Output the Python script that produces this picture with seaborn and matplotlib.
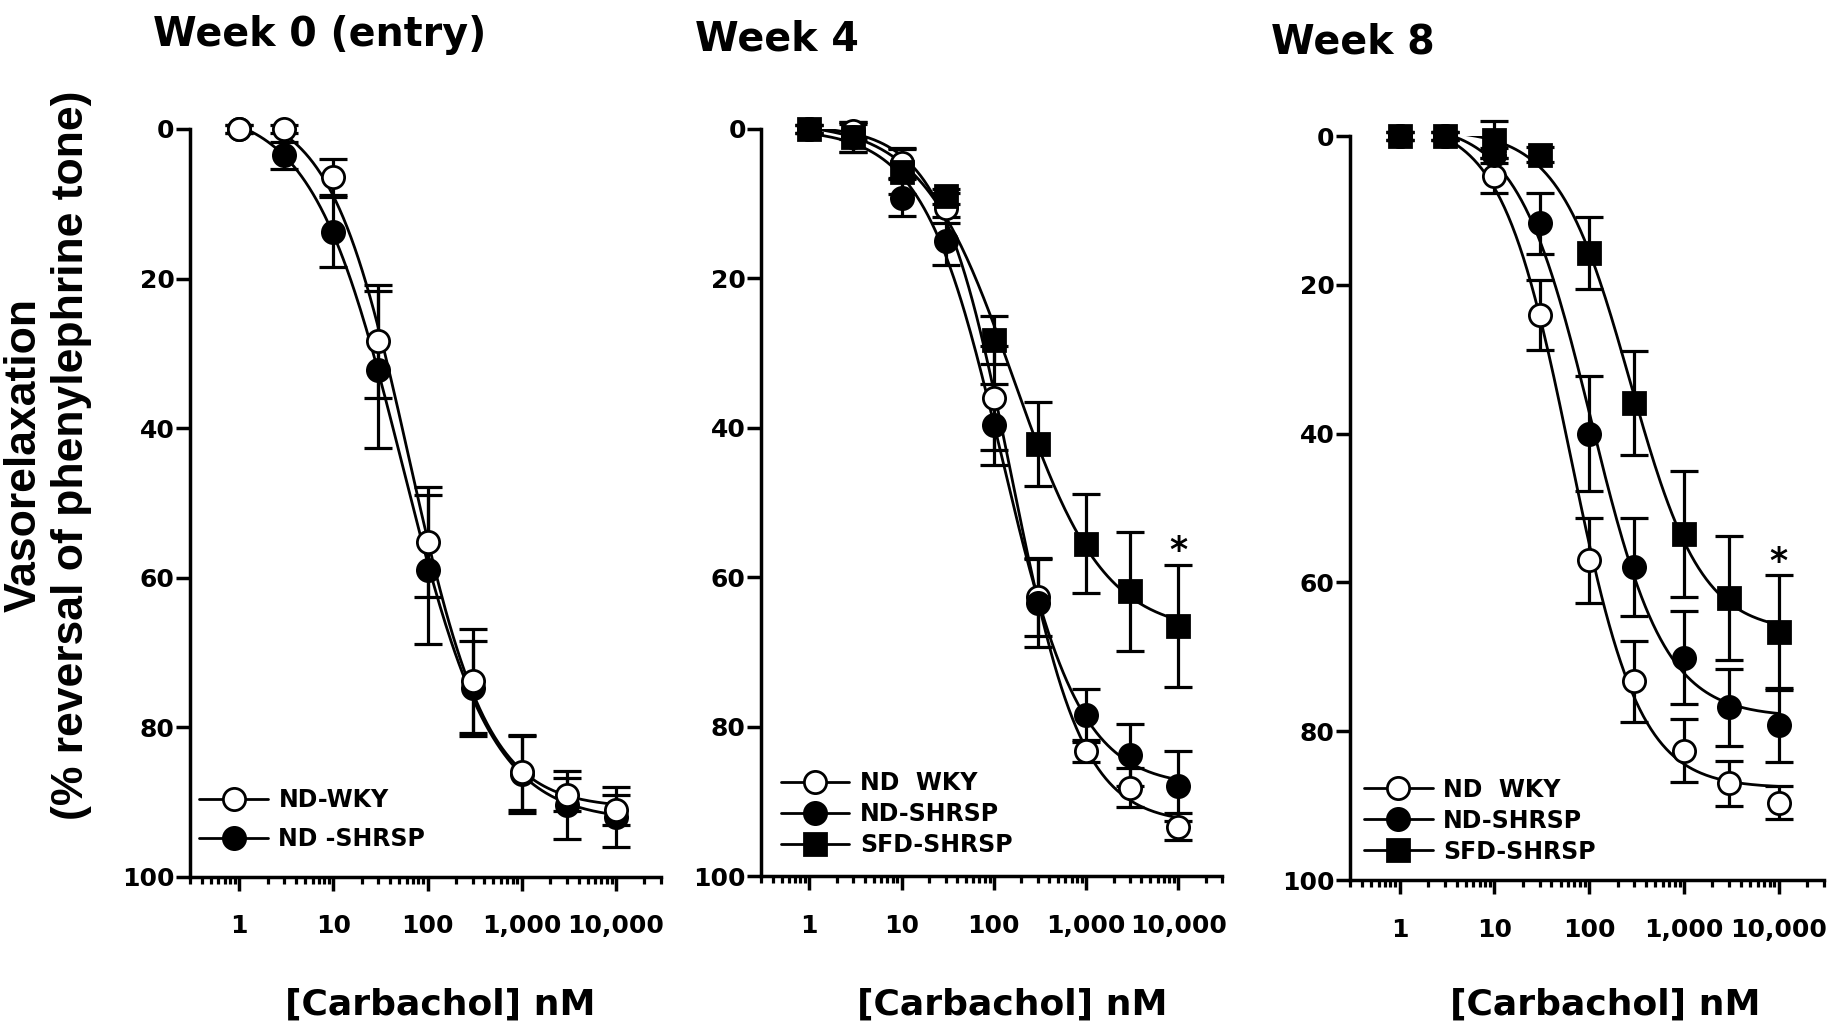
import numpy as np
import matplotlib
matplotlib.use("Agg")
import matplotlib.pyplot as plt
import seaborn as sns
from matplotlib.lines import Line2D
from matplotlib.ticker import FixedLocator, LogLocator, FuncFormatter, NullFormatter

sns.set_style("ticks")
plt.rcParams["font.family"] = ["DejaVu Sans"]
plt.rcParams["font.weight"] = "bold"
for key in ["text.color", "axes.labelcolor", "xtick.color", "ytick.color", "axes.edgecolor"]:
    plt.rcParams[key] = "black"

# carbachol concentrations (nM)
conc = [1, 3, 10, 30, 100, 300, 1000, 3000, 10000]

# Week 0 (entry)
w0_wky = [0, 0, 6.4, 28.4, 55.2, 73.8, 86, 89, 91]
w0_wky_sem = [0.5, 0.5, 2.4, 7.6, 7.4, 7, 5, 2.2, 2]
w0_shrsp = [0, 3.5, 13.8, 32.2, 58.9, 74.8, 86.3, 90.4, 92]
w0_shrsp_sem = [0.5, 1.8, 4.7, 10.5, 10, 6.3, 5.2, 4.5, 4]

# Week 4
w4_wky = [0, 0.3, 4.6, 10.6, 36, 62.7, 83.3, 88.2, 93.4]
w4_wky_sem = [0.5, 1, 2, 2, 7, 5.2, 1.5, 2.6, 1.8]
w4_shrsp = [0, 1.1, 9.2, 15, 39.6, 63.4, 78.5, 83.8, 88]
w4_shrsp_sem = [0.5, 2, 2.5, 3.2, 5.4, 6, 3.6, 4.2, 4.7]
w4_sfd = [0, 1.1, 5.7, 9, 28.2, 42.2, 55.5, 61.9, 66.5]
w4_sfd_sem = [0.5, 2, 3, 1, 3.2, 5.6, 6.6, 8, 8.2]

# Week 8
w8_wky = [0, 0, 5.3, 24, 57, 73.3, 82.6, 87, 89.6]
w8_wky_sem = [0.5, 0.5, 2.4, 4.7, 5.7, 5.4, 4.2, 3, 2.2]
w8_shrsp = [0, 0, 2.6, 11.7, 40, 57.9, 70.1, 76.8, 79.2]
w8_shrsp_sem = [0.5, 0.5, 1, 4.1, 7.7, 6.6, 6.2, 5.2, 5]
w8_sfd = [0, 0, 0.5, 2.5, 15.7, 35.9, 53.5, 62.1, 66.7]
w8_sfd_sem = [0.5, 0.5, 2.5, 1, 4.8, 7, 8.5, 8.3, 7.7]

titles = ["Week 0 (entry)", "Week 4", "Week 8"]
star_y = [None, 56.5, 57.3]


def fit_curve(x, y):
    # 4-parameter logistic, least squares over a grid of EC50 / slope
    lx = np.log10(np.asarray(x, float))
    y = np.asarray(y, float)
    C, H = np.meshgrid(np.arange(0.3, 3.8, 0.01), np.arange(0.3, 2.5, 0.01), indexing="ij")
    s = 1 / (1 + 10 ** ((C[..., None] - lx) * H[..., None]))
    u = 1 - s
    a11 = (u * u).sum(-1); a12 = (u * s).sum(-1); a22 = (s * s).sum(-1)
    b1 = (u * y).sum(-1); b2 = (s * y).sum(-1)
    det = a11 * a22 - a12 ** 2
    bot = (a22 * b1 - a12 * b2) / det
    top = (a11 * b2 - a12 * b1) / det
    sse = ((bot[..., None] * u + top[..., None] * s - y) ** 2).sum(-1)
    i = np.unravel_index(np.argmin(sse), sse.shape)
    xs = np.logspace(0, 4, 200)
    ys = bot[i] + (top[i] - bot[i]) / (1 + 10 ** ((C[i] - np.log10(xs)) * H[i]))
    return xs, ys


styles = {
    "wky": dict(marker="o", mfc="white"),
    "shrsp": dict(marker="o", mfc="black"),
    "sfd": dict(marker="s", mfc="black"),
}

panels = [
    # (draw order list, legend labels)
    ([("shrsp", w0_shrsp, w0_shrsp_sem), ("wky", w0_wky, w0_wky_sem)],
     [("wky", "ND-WKY"), ("shrsp", "ND -SHRSP")]),
    ([("wky", w4_wky, w4_wky_sem), ("shrsp", w4_shrsp, w4_shrsp_sem), ("sfd", w4_sfd, w4_sfd_sem)],
     [("wky", "ND  WKY"), ("shrsp", "ND-SHRSP"), ("sfd", "SFD-SHRSP")]),
    ([("wky", w8_wky, w8_wky_sem), ("shrsp", w8_shrsp, w8_shrsp_sem), ("sfd", w8_sfd, w8_sfd_sem)],
     [("wky", "ND  WKY"), ("shrsp", "ND-SHRSP"), ("sfd", "SFD-SHRSP")]),
]

rects = [
    [0.1034, 0.1461, 0.2564, 0.7283],
    [0.4143, 0.1470, 0.2510, 0.7274],
    [0.7349, 0.1431, 0.2580, 0.7244],
]
title_pos = [(0.0833, 0.966), (0.3783, 0.962), (0.6919, 0.959)]
xlabel_x = [0.2395, 0.551, 0.874]
leg_anchor = [(0.02, 0.035), (0.043, 0.025), (0.03, 0.022)]
leg_spacing = [0.62, 0.3, 0.3]

fig = plt.figure(figsize=(18.37, 10.27), dpi=100)

for k, (series, labels) in enumerate(panels):
    ax = fig.add_axes(rects[k])
    ax.set_xscale("log")
    ax.set_xlim(0.3, 30000)
    ax.set_ylim(100, 0)

    for z, (key, vals, sem) in enumerate(series):
        xs, ys = fit_curve(conc, vals)
        sns.lineplot(x=xs, y=ys, ax=ax, color="black", lw=2, zorder=2, sort=True)
        ax.errorbar(conc, vals, yerr=sem, fmt="none", ecolor="black", elinewidth=2.3,
                    capsize=10, capthick=2.3, zorder=3 + z * 0.1, clip_on=False)
        ax.plot(conc, vals, ls="none", marker=styles[key]["marker"], ms=16,
                mfc=styles[key]["mfc"], mec="black", mew=2, zorder=4 + z * 0.1, clip_on=False)

    if star_y[k] is not None:
        ax.text(10000, star_y[k], "*", ha="center", va="center", fontsize=25, fontweight="bold")

    for side in ["top", "right"]:
        ax.spines[side].set_visible(False)
    for side in ["left", "bottom"]:
        ax.spines[side].set_linewidth(2.5)

    ax.xaxis.set_major_locator(FixedLocator([1, 10, 100, 1000, 10000]))
    ax.xaxis.set_major_formatter(FuncFormatter(lambda v, p: f"{int(round(v)):,}"))
    ax.xaxis.set_minor_locator(LogLocator(base=10, subs=range(2, 10), numticks=20))
    ax.xaxis.set_minor_formatter(NullFormatter())
    ax.set_yticks([0, 20, 40, 60, 80, 100])
    ax.tick_params(axis="both", which="major", length=10, width=2.5, labelsize=18,
                   direction="out", color="black", labelcolor="black")
    ax.tick_params(axis="x", which="major", pad=17)
    ax.tick_params(axis="y", which="major", pad=1)
    ax.tick_params(axis="x", which="minor", length=5, width=2.3, direction="out")
    for lab in ax.get_xticklabels() + ax.get_yticklabels():
        lab.set_fontweight("bold")
    ax.set_xlabel("")
    ax.set_ylabel("")

    handles = []
    for key, lab in labels:
        handles.append(Line2D([], [], color="black", lw=2, marker=styles[key]["marker"],
                              ms=16, mfc=styles[key]["mfc"], mec="black", mew=2))
    ax.legend(handles, [lab for _, lab in labels], loc="lower left",
              bbox_to_anchor=leg_anchor[k], frameon=False, borderpad=0,
              borderaxespad=0, handlelength=2.9, handletextpad=0.45,
              labelspacing=leg_spacing[k], prop=dict(size=17, weight="bold"))

    fig.text(title_pos[k][0], title_pos[k][1], titles[k], ha="left", va="center",
             fontsize=28.5, fontweight="bold")
    fig.text(xlabel_x[k], 0.022, "[Carbachol] nM", ha="center", va="center",
             fontsize=26, fontweight="bold")

fig.text(0.026, 0.557, "Vasorelaxation\n(% reversal of phenylephrine tone)", rotation=90,
         ha="center", va="center", multialignment="center", fontsize=32, fontweight="bold",
         family=["Liberation Sans", "DejaVu Sans"], linespacing=1.22)

fig.savefig("out.png", dpi=100, facecolor="white")
